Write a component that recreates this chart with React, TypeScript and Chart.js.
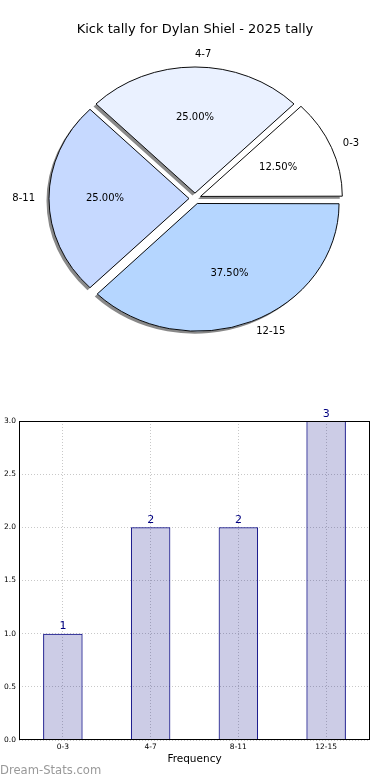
import React, { useEffect, useRef } from "react";
import { Chart, registerables } from "chart.js";
Chart.register(...registerables);

const TITLE = "Kick tally for Dylan Shiel - 2025 tally";
const categories = ["0-3", "4-7", "8-11", "12-15"];
const counts = [1, 2, 2, 3];
const sliceColors = ["#ffffff", "#eaf1ff", "#c6d9ff", "#b5d6ff"];
const yTickStep = 0.5;
const yMax = 3;
const X_TITLE = "Frequency";
const WATERMARK = "Dream-Stats.com";

const FONT = "'DejaVu Sans', sans-serif";
const Y_SQUASH = 127 / 141;

const piePlugin = {
  id: "pieExtras",
  beforeDatasetsDraw(chart: any) {
    const meta = chart.getDatasetMeta(0);
    const first = meta.data[0];
    const ctx = chart.ctx;
    ctx.save();
    ctx.translate(first.x, first.y);
    ctx.scale(1, Y_SQUASH);
    ctx.translate(-first.x, -first.y);
    // shadow pass (fills only)
    ctx.save();
    ctx.shadowColor = "rgba(40,40,40,0.55)";
    ctx.shadowOffsetX = -2.5;
    ctx.shadowOffsetY = 2.5;
    ctx.shadowBlur = 0;
    meta.data.forEach((arc: any) => {
      const o = arc.options;
      arc.options = Object.assign({}, o, { borderWidth: 0 });
      arc.draw(ctx);
      arc.options = o;
    });
    ctx.restore();
  },
  afterDatasetsDraw(chart: any) {
    const ctx = chart.ctx;
    ctx.restore();
    const meta = chart.getDatasetMeta(0);
    const ds = chart.data.datasets[0];
    const total = ds.data.reduce((a: number, b: number) => a + b, 0);
    ctx.save();
    ctx.fillStyle = "#000";
    ctx.font = `10px ${FONT}`;
    ctx.textBaseline = "middle";
    meta.data.forEach((arc: any, i: number) => {
      const p = arc.getProps(["x", "y", "startAngle", "endAngle", "outerRadius"], true);
      // Chart.js translates an arc by offset / 4 along its mid angle
      const off = (arc.options.offset || 0) / 4;
      const mid = (p.startAngle + p.endAngle) / 2;
      const c = Math.cos(mid);
      const s = Math.sin(mid);
      const at = (f: number) => [p.x + c * (off + f * p.outerRadius), p.y + s * (off + f * p.outerRadius) * Y_SQUASH];
      const [px, py] = at(0.6);
      ctx.textAlign = "center";
      ctx.fillText(((ds.data[i] / total) * 100).toFixed(2) + "%", px, py);
      const [lx, ly] = at(1.1);
      ctx.textAlign = c > -1e-6 ? "left" : "right";
      ctx.fillText(String(chart.data.labels[i]), lx, ly);
    });
    ctx.restore();
  },
};

const framePlugin = {
  id: "frame",
  afterDraw(chart: any) {
    const { left, top, right, bottom } = chart.chartArea;
    const ctx = chart.ctx;
    ctx.save();
    ctx.strokeStyle = "#000";
    ctx.lineWidth = 1;
    ctx.strokeRect(Math.round(left) + 0.5, Math.round(top) + 0.5, Math.round(right - left) - 1, Math.round(bottom - top) - 1);
    ctx.restore();
  },
};

const valuePlugin = {
  id: "values",
  afterDatasetsDraw(chart: any) {
    const ctx = chart.ctx;
    const meta = chart.getDatasetMeta(0);
    ctx.save();
    ctx.fillStyle = "#000080";
    ctx.font = `11px ${FONT}`;
    ctx.textAlign = "center";
    ctx.textBaseline = "alphabetic";
    meta.data.forEach((bar: any, i: number) => {
      ctx.fillText(String(counts[i]), bar.x, bar.y - 4.5);
    });
    ctx.restore();
  },
};

export default function App() {
  const pieRef = useRef<HTMLCanvasElement>(null);
  const barRef = useRef<HTMLCanvasElement>(null);

  useEffect(() => {
    const order = [3, 2, 1, 0];
    const pie = new Chart(pieRef.current as HTMLCanvasElement, {
      type: "pie",
      data: {
        labels: order.map((i) => categories[i]),
        datasets: [
          {
            data: order.map((i) => counts[i]),
            backgroundColor: order.map((i) => sliceColors[i]),
            borderColor: "#000",
            borderWidth: 1,
            offset: 24,
            radius: 140,
            clip: false,
          } as any,
        ],
      },
      options: {
        responsive: false,
        animation: false,
        events: [],
        rotation: 90,
        layout: { padding: { top: 0, bottom: 20.6, left: 0, right: 0 } },
        plugins: {
          legend: { display: false },
          tooltip: { enabled: false },
          title: {
            display: true,
            text: TITLE,
            color: "#000",
            font: { family: FONT, size: 13, weight: "normal" },
            padding: { top: 22, bottom: 0 },
          },
        },
      } as any,
      plugins: [piePlugin],
    });

    const bar = new Chart(barRef.current as HTMLCanvasElement, {
      type: "bar",
      data: {
        labels: categories,
        datasets: [
          {
            data: counts,
            backgroundColor: "rgba(0,0,128,0.2)",
            borderColor: "#000080",
            borderWidth: 1,
            categoryPercentage: 1,
            barPercentage: 0.45,
          },
        ],
      },
      options: {
        responsive: false,
        animation: false,
        events: [],
        layout: { padding: { top: 41, right: 20, bottom: 10, left: 0 } },
        plugins: { legend: { display: false }, tooltip: { enabled: false } },
        scales: {
          x: {
            grid: { offset: false, color: "#c8c8c8", lineWidth: 1, drawTicks: false },
            border: { display: false, dash: [1, 2] },
            ticks: { font: { family: FONT, size: 7.5 }, color: "#000", padding: 3 },
            title: {
              display: true,
              text: X_TITLE,
              color: "#000",
              font: { family: FONT, size: 10.5 },
              padding: { top: 2, bottom: 4 },
            },
            afterFit: (s: any) => {
              s.height = 30;
            },
          },
          y: {
            min: 0,
            max: yMax,
            grid: { color: "#c8c8c8", lineWidth: 1, drawTicks: false },
            border: { display: false, dash: [1, 2] },
            ticks: {
              stepSize: yTickStep,
              font: { family: FONT, size: 7.5 },
              color: "#000",
              padding: 3,
              callback: (v: any) => Number(v).toFixed(1),
            },
            afterFit: (s: any) => {
              s.width = 19;
            },
          },
        },
      } as any,
      plugins: [valuePlugin, framePlugin],
    });

    return () => {
      pie.destroy();
      bar.destroy();
    };
  }, []);

  return (
    <div style={{ position: "fixed", left: 0, top: 0, width: 390, height: 780, background: "#fff", overflow: "hidden" }}>
      <canvas ref={pieRef} width={390} height={380} style={{ position: "absolute", left: 0, top: 0 }} />
      <canvas ref={barRef} width={390} height={400} style={{ position: "absolute", left: 0, top: 380 }} />
      <div
        style={{
          position: "absolute",
          left: 0,
          top: 763,
          fontFamily: FONT,
          fontSize: 11.6,
          lineHeight: "14px",
          color: "#999",
          whiteSpace: "nowrap",
        }}
      >
        {WATERMARK}
      </div>
    </div>
  );
}
